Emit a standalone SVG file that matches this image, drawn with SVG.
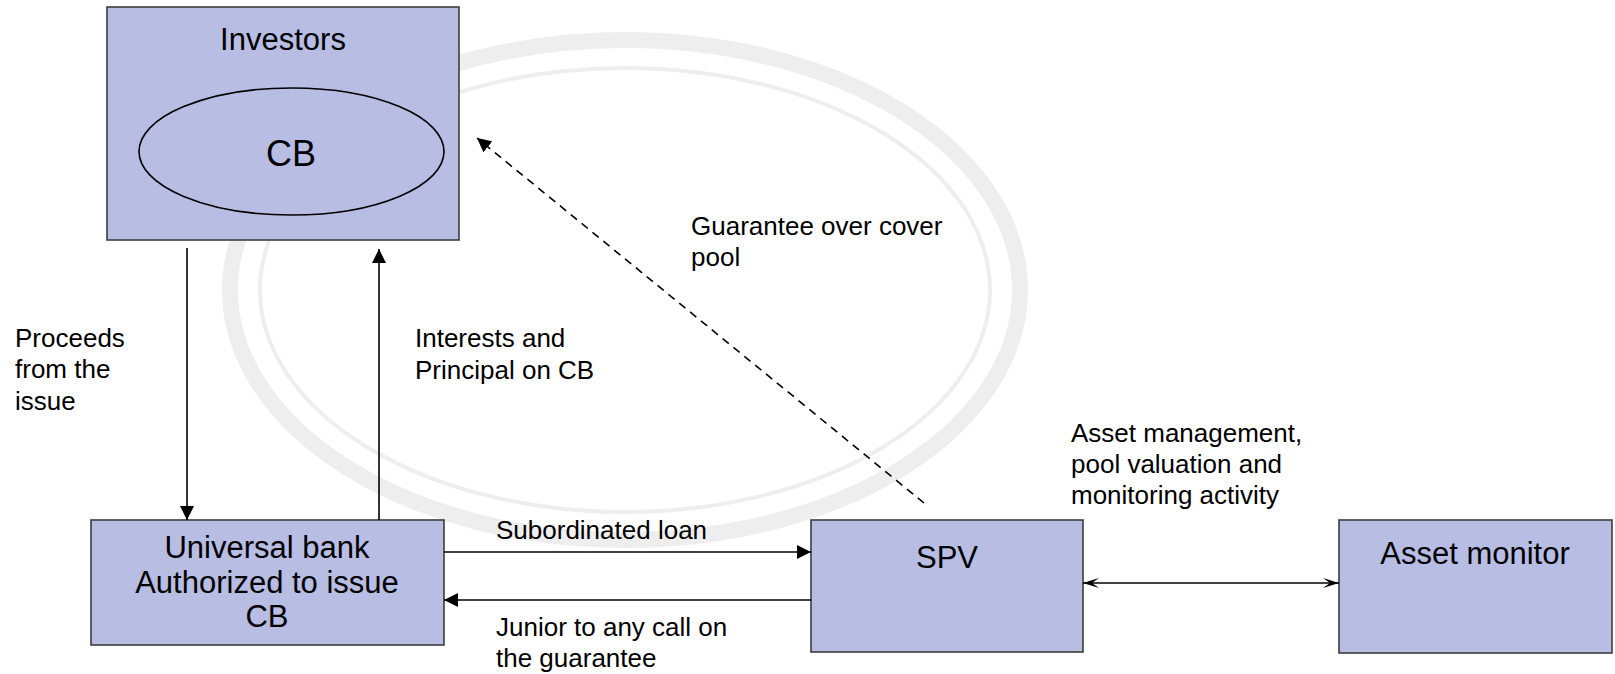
<svg xmlns="http://www.w3.org/2000/svg" width="1615" height="674" viewBox="0 0 1615 674">
<style>
.box{fill:#b8bde4;stroke:#3c3c3c;stroke-width:1.6}
.nt{font-family:"Liberation Sans",Arial,sans-serif;font-size:31px;fill:#000;text-anchor:middle}
.lb{font-family:"Liberation Sans",Arial,sans-serif;font-size:26px;fill:#000}
.ln{fill:none;stroke:#000;stroke-width:1.6}
.wm{fill:none;stroke:#eeeeee}
</style>
<defs>
<marker id="ah" markerWidth="16" markerHeight="14" refX="14" refY="7" orient="auto" markerUnits="userSpaceOnUse">
<path d="M0,0 L14,7 L0,14 z" fill="#000"/>
</marker>
<marker id="st" markerWidth="18" markerHeight="12" refX="16" refY="6" orient="auto-start-reverse" markerUnits="userSpaceOnUse">
<path d="M0,1 L16,6 L0,11 L7,6 z" fill="#000"/>
</marker>
</defs>
<rect width="1615" height="674" fill="#fff"/>
<g id="watermark">
<ellipse class="wm" cx="625" cy="290" rx="395" ry="250" stroke-width="16"/>
<ellipse class="wm" cx="625" cy="290" rx="365" ry="222" stroke-width="4"/>
</g>
<g id="investors">
<rect class="box" x="107" y="7" width="352" height="233"/>
<text class="nt" x="283" y="50">Investors</text>
<ellipse cx="291.5" cy="151.5" rx="152.5" ry="63.5" fill="none" stroke="#000" stroke-width="1.6"/>
<text class="nt" x="291" y="166" style="font-size:36px">CB</text>
</g>
<g id="bank">
<rect class="box" x="91" y="520" width="353" height="125"/>
<text class="nt" x="267" y="558">Universal bank</text>
<text class="nt" x="267" y="593">Authorized to issue</text>
<text class="nt" x="267" y="627">CB</text>
</g>
<g id="spv">
<rect class="box" x="811" y="520" width="272" height="132"/>
<text class="nt" x="947" y="568">SPV</text>
</g>
<g id="asset-monitor">
<rect class="box" x="1339" y="520" width="273" height="133"/>
<text class="nt" x="1475" y="564">Asset monitor</text>
</g>
<g id="connectors">
<line class="ln" x1="187" y1="248" x2="187" y2="520" marker-end="url(#ah)"/>
<line class="ln" x1="379" y1="520" x2="379" y2="249" marker-end="url(#ah)"/>
<line class="ln" x1="444" y1="552" x2="811" y2="552" marker-end="url(#ah)"/>
<line class="ln" x1="811" y1="600" x2="444" y2="600" marker-end="url(#ah)"/>
<line class="ln" x1="1083" y1="583" x2="1339" y2="583" marker-start="url(#st)" marker-end="url(#st)"/>
<line class="ln" x1="924" y1="503" x2="477" y2="138" stroke-dasharray="8,6" marker-end="url(#ah)"/>
</g>
<g id="labels">
<text class="lb" x="15" y="347">Proceeds</text>
<text class="lb" x="15" y="378">from the</text>
<text class="lb" x="15" y="410">issue</text>
<text class="lb" x="415" y="347">Interests and</text>
<text class="lb" x="415" y="379">Principal on CB</text>
<text class="lb" x="691" y="235">Guarantee over cover</text>
<text class="lb" x="691" y="266">pool</text>
<text class="lb" x="1071" y="442">Asset management,</text>
<text class="lb" x="1071" y="473">pool valuation and</text>
<text class="lb" x="1071" y="504">monitoring activity</text>
<text class="lb" x="496" y="539">Subordinated loan</text>
<text class="lb" x="496" y="636">Junior to any call on</text>
<text class="lb" x="496" y="667">the guarantee</text>
</g>
</svg>
